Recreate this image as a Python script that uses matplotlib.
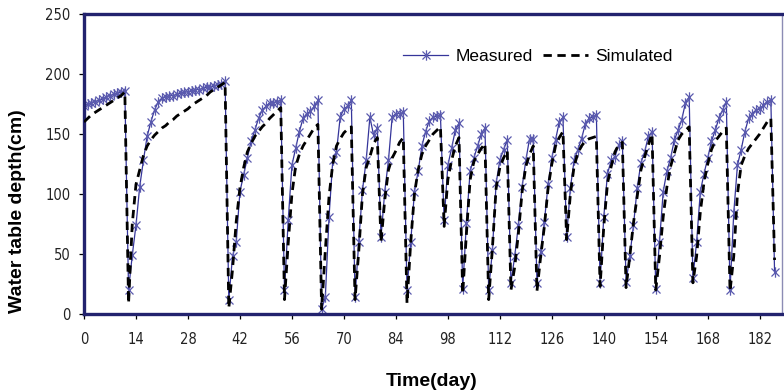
import numpy as np, matplotlib
matplotlib.use("Agg"); import matplotlib.pyplot as plt
from matplotlib.path import Path

# daily water table depth (cm), day 0 .. 186
measured = [173,175,176,177,178,179,181,182,183,184,185,186,
            20,49,74,106,128,148,160,170,177,180,181,182,182,183,184,185,185,186,187,
            187,188,189,189,190,191,192,194,
            12,48,60,102,116,130,144,153,163,170,173,176,176,177,178,
            20,78,124,138,152,163,167,169,173,178,
            4,14,81,128,135,164,171,173,178,
            14,60,103,128,164,149,155,
            64,102,128,164,167,167,168,
            20,60,102,119,140,152,161,164,165,166,
            78,124,138,153,159,
            21,76,119,130,140,150,155,
            20,53,109,128,137,145,
            26,48,74,106,128,146,146,
            26,52,77,108,130,145,160,164,
            64,105,128,137,146,158,163,164,166,
            26,81,117,128,131,141,144,
            27,48,74,105,126,135,148,152,
            21,60,102,119,130,145,153,162,176,181,
            30,60,102,117,130,144,153,163,170,177,
            20,84,124,137,152,163,167,170,171,174,177,178,
            35]
simulated = [160,163,166,168,170,172,174,176,178,180,182,185,
             9,75,108,120,132,140,145,149,152,155,157,160,162,165,167,169,171,174,176,
             178,180,182,185,187,189,191,193,
             5,37,77,105,122,135,142,148,152,156,159,163,166,169,172,
             12,59,100,123,133,140,145,150,155,158,
             4,53,98,125,140,146,151,154,156,
             12,52,100,122,131,142,147,
             60,95,120,130,136,143,147,
             9,60,100,120,133,140,145,150,153,156,
             73,112,128,140,147,
             17,67,112,127,133,138,142,
             12,55,105,122,130,136,
             20,39,67,102,123,133,140,
             19,48,73,105,125,140,147,152,
             62,100,123,134,140,144,146,147,148,
             23,73,109,123,135,141,143,
             22,48,76,98,120,131,141,150,
             20,48,81,106,123,134,145,150,153,156,
             26,48,85,110,125,137,144,148,152,155,
             19,48,100,124,132,138,142,146,150,155,160,163,
             45]
days = np.arange(len(measured))
xticks = list(range(0, 183, 14))
yticks = [0, 50, 100, 150, 200, 250]

NAVY = "#23236e"; LINE = "#35359a"; MARK = "#5a5aae"
plt.rcParams["font.family"] = ["Liberation Sans", "DejaVu Sans"]

# Excel style asterisk marker: X with a vertical bar
ast = Path([(-1, -1), (1, 1), (-1, 1), (1, -1), (0, -1.3), (0, 1.3)],
           [Path.MOVETO, Path.LINETO, Path.MOVETO, Path.LINETO, Path.MOVETO, Path.LINETO])

fig = plt.figure(figsize=(7.84, 3.92), dpi=100)
ax = fig.add_axes([84/784, 78/392, 698/784, 300/392])
ax.plot(days, measured, color=LINE, lw=0.9, marker=ast, ms=7.5, mec=MARK, mew=0.9,
        label="Measured", zorder=2)
ax.plot(np.arange(len(simulated)), simulated, color="black", lw=2, ls=(0, (3, 2)),
        label="Simulated", zorder=3)

ax.set_xlim(0, 188); ax.set_ylim(0, 250)
ax.set_xticks(xticks); ax.set_yticks(yticks)
ax.tick_params(direction="out", length=3.6, width=0.9, color="black")
ax.tick_params(axis="x", pad=9); ax.tick_params(axis="y", pad=6)
for lab in ax.get_xticklabels() + ax.get_yticklabels():
    lab.set_family("DejaVu Sans"); lab.set_stretch("condensed")
    lab.set_fontsize(10.5); lab.set_color("#222222")
for s in ["left", "bottom", "top"]:
    ax.spines[s].set_color(NAVY); ax.spines[s].set_linewidth(2.4)
ax.spines["right"].set_color("#8c8cb4"); ax.spines["right"].set_linewidth(1)

fig.text(432/784, 1 - 381/392, "Time(day)", ha="center", va="center",
         fontsize=14, fontweight="bold")
fig.text(18/784, 1 - 211/392, "Water table depth(cm)", ha="center", va="center",
         rotation=90, fontsize=14, fontweight="bold")

ax.legend(loc="center", bbox_to_anchor=(0.65, 0.857), ncol=2, frameon=False,
          fontsize=12.5, handlelength=2.6, handletextpad=0.4, columnspacing=0.6,
          numpoints=1)

fig.savefig("out.png", dpi=100)
